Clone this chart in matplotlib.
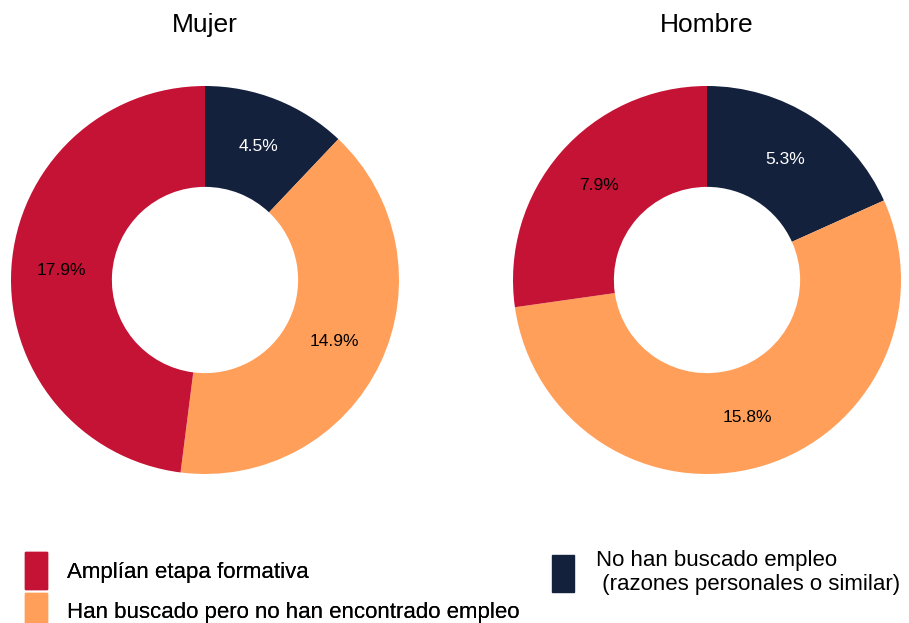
import matplotlib.pyplot as plt
from matplotlib.patches import Patch

plt.rcParams['font.family'] = ['Liberation Sans', 'DejaVu Sans']

# data (order = clockwise from 12 o'clock)
categorias = ["No han buscado empleo\n (razones personales o similar)",
              "Han buscado pero no han encontrado empleo",
              "Amplían etapa formativa"]
mujer = [4.5, 14.9, 17.9]
hombre = [5.3, 15.8, 7.9]
titulos = ["Mujer", "Hombre"]
colores = ["#14213d", "#ff9f5a", "#c41335"]
color_texto = ["white", "black", "black"]

W, H = 909, 623
fig = plt.figure(figsize=(W / 100, H / 100), dpi=100)

R = 194
centros = [(205, 280), (707, 280)]

for (cx, cy), valores, titulo in zip(centros, [mujer, hombre], titulos):
    ax = fig.add_axes([(cx - R) / W, (H - cy - R) / H, 2 * R / W, 2 * R / H])
    wedges, labels, textos = ax.pie(
        valores, colors=colores, startangle=90, counterclock=False, radius=1,
        wedgeprops=dict(width=0.52, linewidth=0), pctdistance=0.74,
        autopct=lambda p, v=valores: "%.1f%%" % (p * sum(v) / 100),
        textprops=dict(fontsize=12.5))
    for t, c in zip(textos, color_texto):
        t.set_color(c)
    ax.set_xlim(-1, 1)
    ax.set_ylim(-1, 1)
    ax.set_aspect('equal')
    fig.text(cx / W, 1 - 25 / H, titulo, ha='center', va='center', fontsize=19)

# leyenda
h = [Patch(color=c) for c in colores]
leg1 = fig.legend([h[2], h[1]], [categorias[2], categorias[1]], loc='upper left',
                  bbox_to_anchor=(5 / W, 1 - 532 / H), frameon=False, fontsize=16,
                  handlelength=1.0, handleheight=2.2, handletextpad=0.9, labelspacing=0.15)
leg2 = fig.legend([h[0]], [categorias[0]], loc='upper left',
                  bbox_to_anchor=(532 / W, 1 - 530 / H), frameon=False, fontsize=16,
                  handlelength=1.0, handleheight=2.2, handletextpad=1.0)
fig.add_artist(leg1)

fig.savefig("out.png", dpi=100)
